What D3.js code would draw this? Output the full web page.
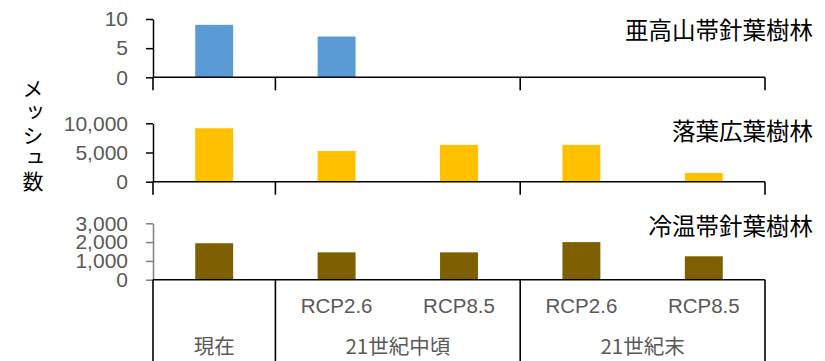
<!DOCTYPE html>
<html>
<head>
<meta charset="utf-8">
<script src="https://cdn.jsdelivr.net/npm/d3@7"></script>
<style>
  body { margin: 0; background: #fff; }
  svg { display: block; font-family: "Liberation Sans", Arial, "Noto Sans CJK JP", sans-serif; }
</style>
</head>
<body>
<div id="chart"></div>
<script>
// categories (bottom axis, two levels)
const scenarios = ["", "RCP2.6", "RCP8.5", "RCP2.6", "RCP8.5"];
const periods = ["現在", "21世紀中頃", "21世紀末"];
const periodSpan = [1, 2, 2];

// series values (メッシュ数)
const subalpine = [9, 7, 0, 0, 0];
const deciduous = [9150, 5250, 6300, 6300, 1500];
const coolTemperate = [1940, 1455, 1455, 2000, 1245];

const panelTitles = ["亜高山帯針葉樹林", "落葉広葉樹林", "冷温帯針葉樹林"];
const panelMax = [10, 10000, 3000];
const panelTicks = [[0, 5, 10], [0, 5000, 10000], [0, 1000, 2000, 3000]];
const yTitle = "メッシュ数";

const series = [subalpine, deciduous, coolTemperate];
const colors = ["#5B9BD5", "#FFC000", "#7F6000"];

const W = 825, H = 361;
const svg = d3.select("#chart").append("svg").attr("width", W).attr("height", H);

const x = d3.scaleBand()
  .domain(d3.range(scenarios.length))
  .range([153, 765])
  .paddingInner(0.69)
  .paddingOuter(0.345);
const step = x.step();
const left = 153, right = 765;

// vertical pixel extent of each panel [top, baseline]
const panelY = [[19, 77.3], [123.3, 181.7], [223.3, 279.7]];

// boundaries between periods
let acc = 0;
const bounds = [0];
periodSpan.forEach(s => { acc += s; bounds.push(acc); });
const bx = i => left + i * step;

series.forEach((vals, p) => {
  const y = d3.scaleLinear().domain([0, panelMax[p]]).range([panelY[p][1], panelY[p][0]]);
  const g = svg.append("g");

  // bars
  g.selectAll("rect")
    .data(vals)
    .join("rect")
    .attr("x", (d, i) => x(i))
    .attr("width", x.bandwidth())
    .attr("y", d => y(d))
    .attr("height", d => y(0) - y(d))
    .attr("fill", colors[p]);

  // y axis
  const ax = g.append("g")
    .attr("transform", `translate(${left},0)`)
    .call(d3.axisLeft(y).tickValues(panelTicks[p]).tickFormat(d3.format(","))
      .tickSize(7).tickSizeOuter(0).tickPadding(18));
  const axColor = p === 2 ? "#7f7f7f" : "#000";
  ax.select(".domain").attr("stroke", axColor).attr("stroke-width", 1.5);
  ax.selectAll(".tick line").attr("stroke", axColor).attr("stroke-width", 1.5);
  ax.selectAll(".tick text").attr("fill", "#595959").attr("font-size", 21);

  // baseline
  g.append("line")
    .attr("x1", left).attr("x2", right)
    .attr("y1", y(0)).attr("y2", y(0))
    .attr("stroke", "#000").attr("stroke-width", 1.6);

  // boundary ticks
  const tickLen = p === 2 ? H - y(0) : 13;
  g.selectAll("line.bound")
    .data(bounds)
    .join("line")
    .attr("class", "bound")
    .attr("x1", d => bx(d)).attr("x2", d => bx(d))
    .attr("y1", y(0)).attr("y2", y(0) + tickLen)
    .attr("stroke", "#000").attr("stroke-width", 1.6);

  // panel title
  g.append("text")
    .attr("x", 813)
    .attr("y", [31, 132, 227][p])
    .attr("dy", "0.35em")
    .attr("text-anchor", "end")
    .attr("font-family", "'Noto Sans CJK JP', sans-serif")
    .attr("font-size", 23.5)
    .attr("fill", "#000")
    .text(panelTitles[p]);
});

// category labels
svg.append("g").selectAll("text")
  .data(scenarios)
  .join("text")
  .attr("x", (d, i) => x(i) + x.bandwidth() / 2)
  .attr("y", 306)
  .attr("dy", "0.35em")
  .attr("text-anchor", "middle")
  .attr("font-size", 20.5)
  .attr("fill", "#595959")
  .text(d => d);

svg.append("g").selectAll("text")
  .data(periods)
  .join("text")
  .attr("x", (d, i) => (bx(bounds[i]) + bx(bounds[i + 1])) / 2)
  .attr("y", 347)
  .attr("dy", "0.35em")
  .attr("text-anchor", "middle")
  .attr("font-family", "'Noto Sans CJK JP', sans-serif")
  .attr("font-size", 20.5)
  .attr("fill", "#595959")
  .text(d => d);

// y axis title, written vertically
svg.append("text")
  .attr("x", 33)
  .attr("y", 78)
  .attr("writing-mode", "vertical-rl")
  .attr("font-family", "'Noto Sans CJK JP', sans-serif")
  .attr("font-size", 21)
  .attr("letter-spacing", 2.2)
  .attr("fill", "#000")
  .text(yTitle);
</script>
</body>
</html>
